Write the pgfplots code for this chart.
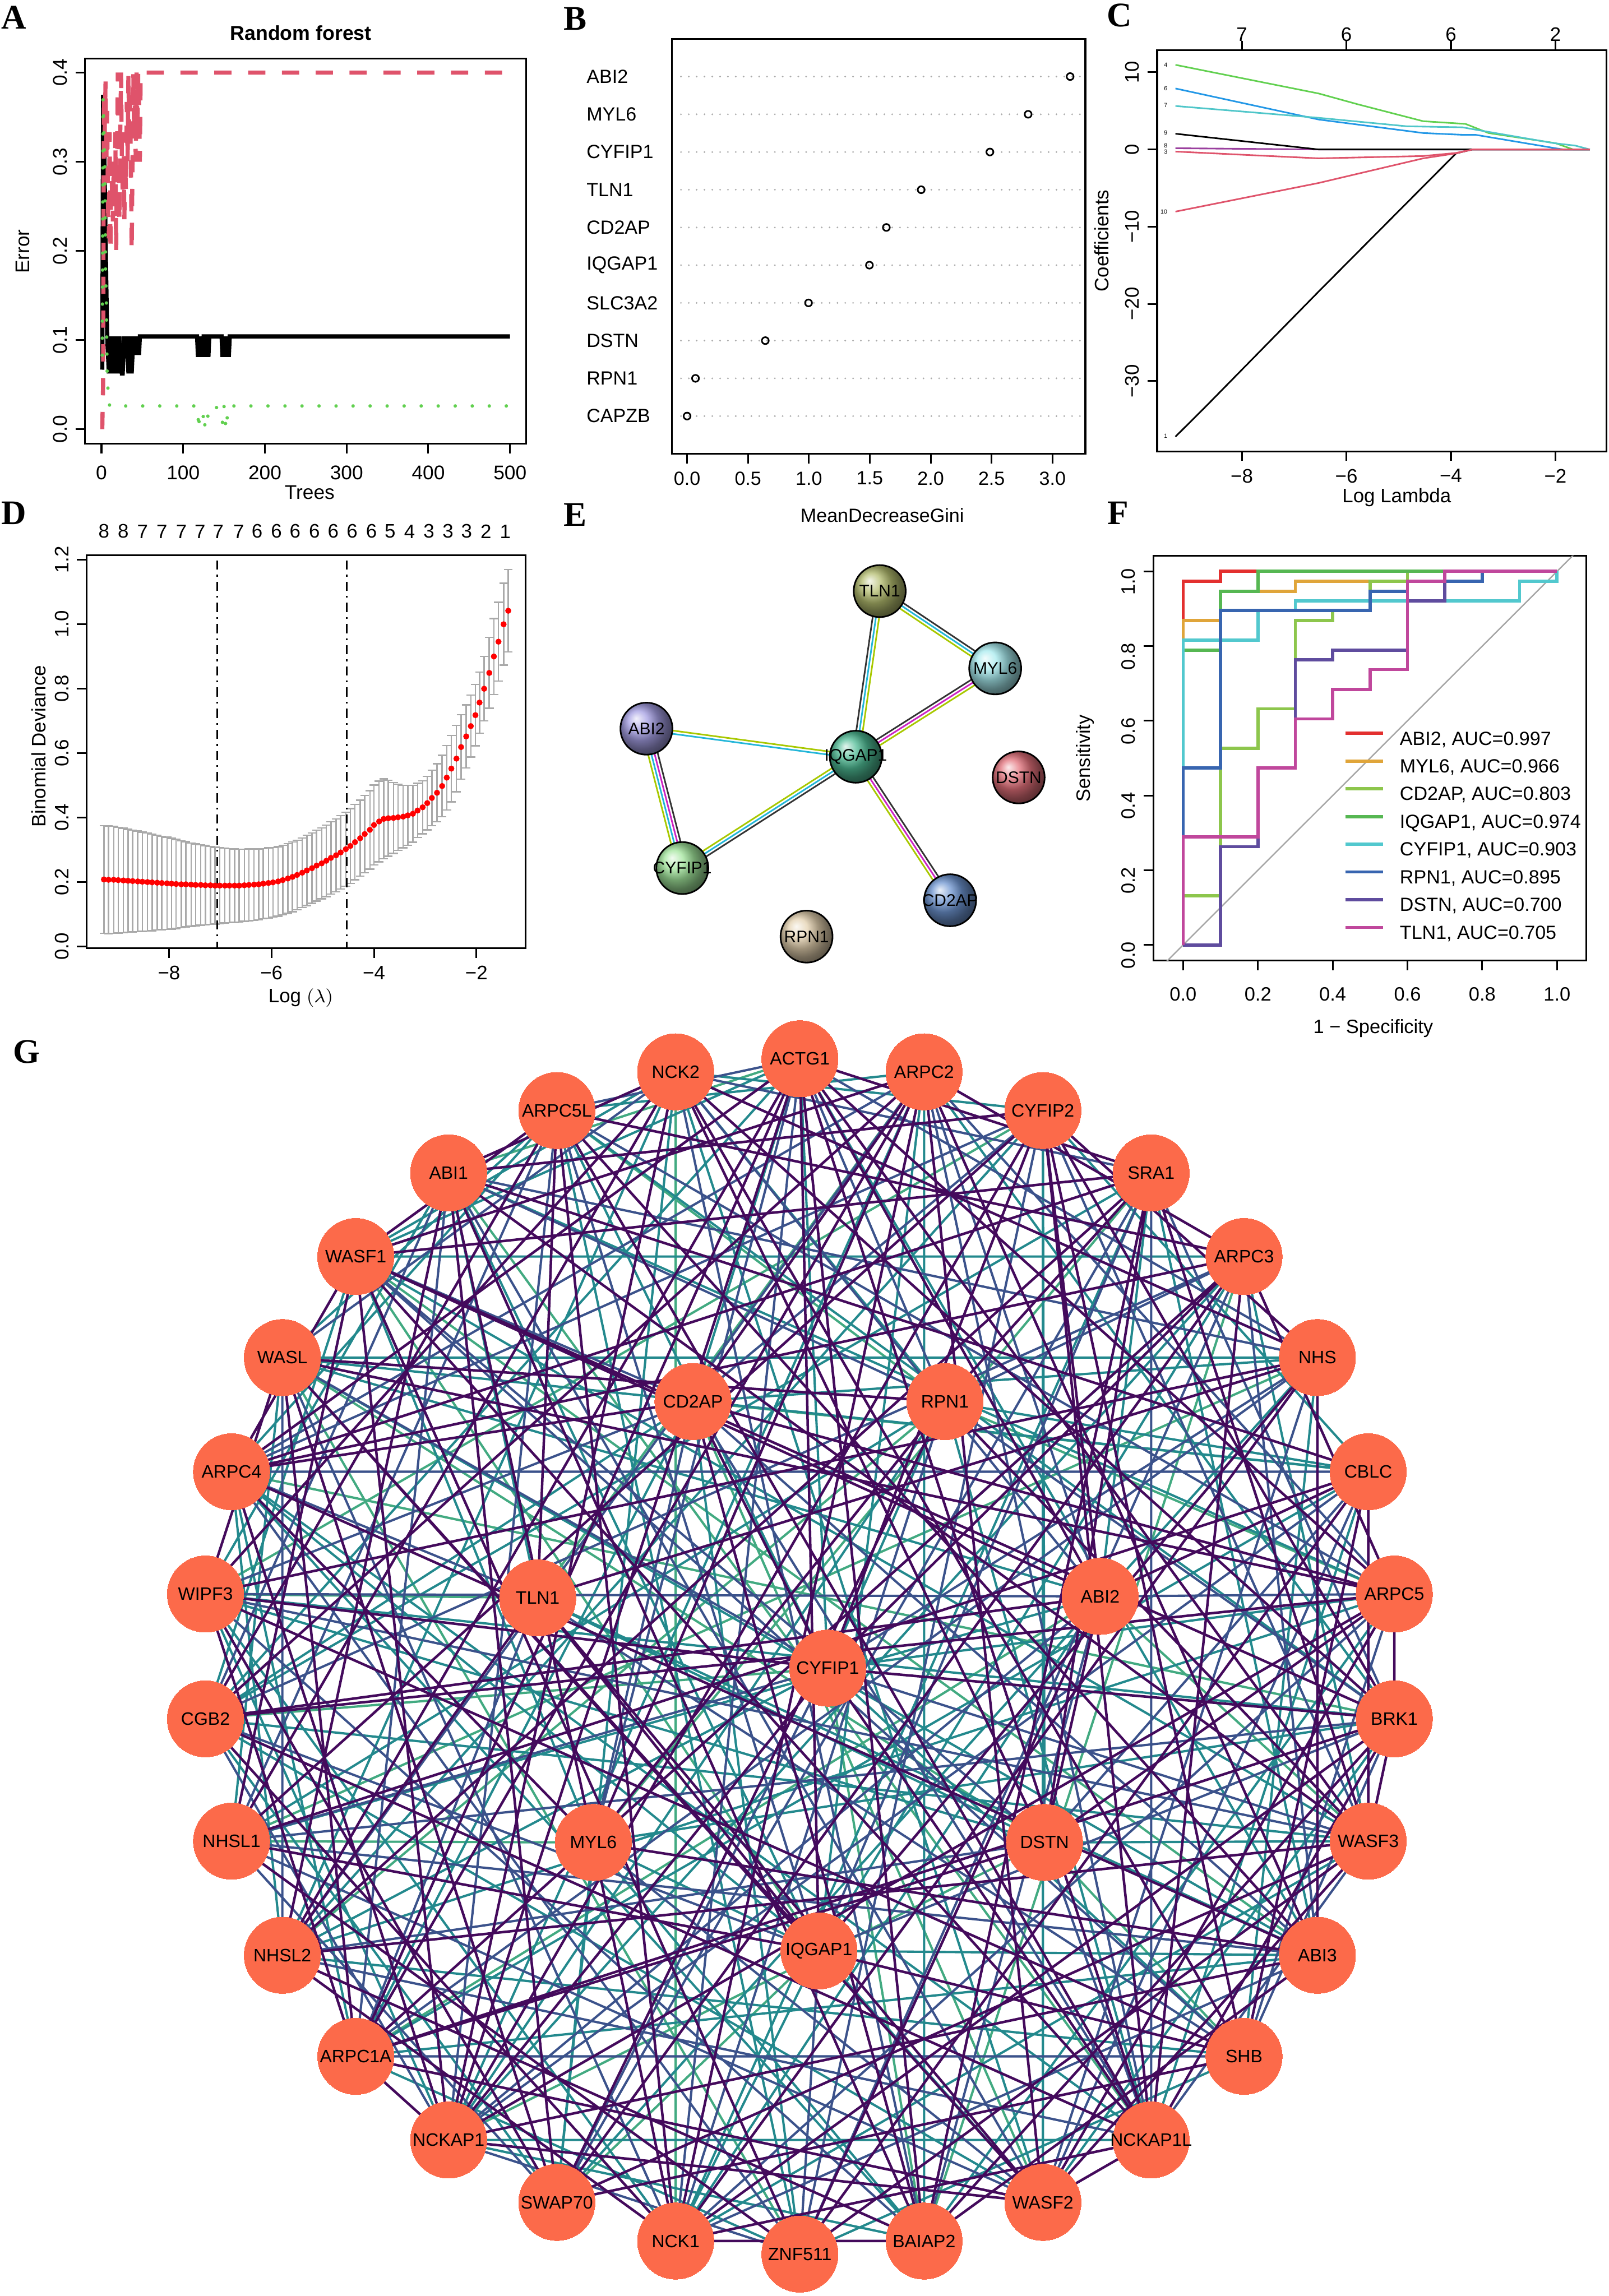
\documentclass[border=0pt]{standalone}
\usepackage{fontspec}
\setmainfont{Liberation Sans}
\newfontfamily\serifbf{Liberation Serif}
\usepackage{pgfplots}
\pgfplotsset{compat=1.18}
\usepackage{pgfplotstable}

\definecolor{rpink}{HTML}{DF536B}
\definecolor{rgreen}{HTML}{61D04F}
\definecolor{rblue}{HTML}{2297E6}
\definecolor{rcyan}{HTML}{4FC6C9}
\definecolor{rpurple}{HTML}{9A3F9E}
\definecolor{errgray}{HTML}{A9A9A9}
\definecolor{dotgray}{HTML}{ABABAB}
\definecolor{diaggray}{HTML}{A6A6A6}
\definecolor{cABI}{HTML}{E3302F}
\definecolor{cMYL}{HTML}{E0A53A}
\definecolor{cCD2}{HTML}{8DC64C}
\definecolor{cIQG}{HTML}{56B752}
\definecolor{cCYF}{HTML}{52C8CE}
\definecolor{cRPN}{HTML}{3865B0}
\definecolor{cDST}{HTML}{5F4C9E}
\definecolor{cTLN}{HTML}{C0479C}
\definecolor{nodecol}{HTML}{FC6A4A}
\definecolor{ePur}{HTML}{440A5C}
\definecolor{eBlu}{HTML}{3B528B}
\definecolor{eTea}{HTML}{23898D}
\definecolor{eGre}{HTML}{42AA81}
\definecolor{sBlk}{HTML}{333333}
\definecolor{sCya}{HTML}{22B5D8}
\definecolor{sMag}{HTML}{CC22C4}
\definecolor{sYG}{HTML}{A8C800}
\definecolor{bTLN}{HTML}{B3BC6E}
\definecolor{bMYL}{HTML}{A6EAEE}
\definecolor{bABI}{HTML}{A39DE2}
\definecolor{bIQG}{HTML}{4DBA93}
\definecolor{bDST}{HTML}{E2707A}
\definecolor{bCYF}{HTML}{A0E49A}
\definecolor{bCD2}{HTML}{6D94D0}
\definecolor{bRPN}{HTML}{E3D0AE}

\pgfplotsset{
  rax/.style={scale only axis, anchor=south west, axis line style={line width=0.75pt},
    tick style={line width=0.75pt, black}, tick align=outside, major tick length=4.2pt,
    tick pos=left, clip=true},
  ryl/.style={yticklabel style={rotate=90, anchor=south}},
  fs/.style={ticklabel style={font=\fontsize{#1}{#1}\selectfont}, label style={font=\fontsize{#1}{#1}\selectfont}},
}

\pgfplotstableread{
idx x y name
0 0 408 ACTG1
1 84.8 399.1 ARPC2
2 165.9 372.7 CYFIP2
3 239.8 330.1 SRA1
4 303.2 273.0 ARPC3
5 353.3 204.0 NHS
6 388.0 126.1 CBLC
7 405.8 42.6 ARPC5
8 405.8 -42.6 BRK1
9 388.0 -126.1 WASF3
10 353.3 -204.0 ABI3
11 303.2 -273.0 SHB
12 239.8 -330.1 NCKAP1L
13 165.9 -372.7 WASF2
14 84.8 -399.1 BAIAP2
15 0 -408 ZNF511
16 -84.8 -399.1 NCK1
17 -165.9 -372.7 SWAP70
18 -239.8 -330.1 NCKAP1
19 -303.2 -273.0 ARPC1A
20 -353.3 -204.0 NHSL2
21 -388.0 -126.1 NHSL1
22 -405.8 -42.6 CGB2
23 -405.8 42.6 WIPF3
24 -388.0 126.1 ARPC4
25 -353.3 204.0 WASL
26 -303.2 273.0 WASF1
27 -239.8 330.1 ABI1
28 -165.9 372.7 ARPC5L
29 -84.8 399.1 NCK2
30 -73 174 CD2AP
31 99 174 RPN1
32 -179 40 TLN1
33 205 41 ABI2
34 19 -8 CYFIP1
35 -141 -127 MYL6
36 167 -127 DSTN
37 13 -201 IQGAP1
}\nodesG

\pgfplotstableread{
x y e
-1.38 1.042 0.128
-1.47 1.000 0.127
-1.57 0.946 0.122
-1.66 0.900 0.118
-1.75 0.849 0.110
-1.85 0.800 0.100
-1.94 0.757 0.095
-2.02 0.718 0.095
-2.11 0.684 0.096
-2.20 0.652 0.098
-2.30 0.619 0.100
-2.39 0.583 0.103
-2.49 0.552 0.103
-2.58 0.524 0.100
-2.67 0.498 0.095
-2.77 0.477 0.090
-2.87 0.461 0.086
-2.96 0.445 0.083
-3.05 0.432 0.082
-3.15 0.422 0.084
-3.24 0.412 0.088
-3.34 0.407 0.093
-3.43 0.403 0.097
-3.53 0.401 0.103
-3.62 0.399 0.110
-3.72 0.398 0.118
-3.81 0.396 0.124
-3.90 0.388 0.125
-4.00 0.377 0.124
-4.08 0.362 0.122
-4.18 0.349 0.120
-4.27 0.336 0.118
-4.37 0.324 0.117
-4.46 0.312 0.116
-4.55 0.302 0.115
-4.65 0.292 0.114
-4.74 0.283 0.113
-4.84 0.275 0.112
-4.93 0.266 0.111
-5.02 0.258 0.110
-5.12 0.251 0.110
-5.21 0.243 0.109
-5.31 0.236 0.109
-5.40 0.229 0.108
-5.50 0.222 0.108
-5.59 0.216 0.108
-5.68 0.211 0.108
-5.78 0.206 0.108
-5.87 0.202 0.108
-5.97 0.199 0.108
-6.06 0.197 0.109
-6.16 0.195 0.109
-6.25 0.193 0.110
-6.34 0.192 0.111
-6.44 0.191 0.112
-6.53 0.190 0.112
-6.63 0.189 0.113
-6.72 0.189 0.114
-6.82 0.189 0.115
-6.91 0.189 0.116
-7.01 0.189 0.118
-7.10 0.189 0.119
-7.19 0.190 0.121
-7.29 0.190 0.123
-7.38 0.191 0.125
-7.48 0.191 0.127
-7.57 0.192 0.129
-7.67 0.193 0.132
-7.76 0.193 0.135
-7.86 0.194 0.138
-7.95 0.195 0.141
-8.04 0.196 0.143
-8.14 0.197 0.145
-8.23 0.198 0.147
-8.33 0.199 0.150
-8.42 0.200 0.152
-8.52 0.201 0.154
-8.61 0.202 0.156
-8.71 0.203 0.158
-8.80 0.204 0.160
-8.89 0.205 0.162
-8.99 0.206 0.164
-9.08 0.207 0.166
-9.18 0.207 0.167
-9.27 0.208 0.167
}\cvtable

\newcommand\buildedges[2]{%
  \gdef#1{}%
  \foreach \a/\b in {#2}{%
    \pgfplotstablegetelem{\a}{x}\of\nodesG\let\xa\pgfplotsretval
    \pgfplotstablegetelem{\a}{y}\of\nodesG\let\ya\pgfplotsretval
    \pgfplotstablegetelem{\b}{x}\of\nodesG\let\xb\pgfplotsretval
    \pgfplotstablegetelem{\b}{y}\of\nodesG\let\yb\pgfplotsretval
    \xdef#1{#1(\xa,\ya)(\xb,\yb)(nan,nan)}%
  }%
}
\buildedges\edgesP{0/7,0/9,0/12,0/14,0/18,0/20,0/24,0/33,0/37,0/19,0/3,1/4,1/10,1/13,1/16,1/22,1/26,1/30,1/35,1/19,2/5,2/8,2/11,2/18,2/27,2/33,2/34,2/12,2/21,3/9,3/14,3/20,3/26,3/31,3/36,3/24,4/7,4/12,4/17,4/24,4/28,4/34,4/19,5/10,5/16,5/23,5/32,5/37,5/29,6/11,6/15,6/21,6/27,6/33,6/9,7/13,7/18,7/25,7/30,7/36,7/8,7/22,8/12,8/16,8/19,8/26,8/29,8/34,8/9,8/14,9/15,9/20,9/27,9/31,9/13,9/17,10/14,10/18,10/24,10/35,10/28,11/17,11/23,11/29,11/37,12/16,12/22,12/26,12/34,12/13,12/28,13/19,13/25,13/32,13/18,14/20,14/27,14/30,14/16,15/21,15/26,15/33,16/22,16/28,16/35,16/20,17/23,17/27,17/31,17/25,18/24,18/29,18/34,18/19,18/26,19/25,19/36,19/23,20/27,20/32,21/26,21/37,21/29,22/28,22/33,23/29,23/34,23/25,24/30,24/35,24/26,25/31,25/37,26/33,26/28,27/35,27/29,28/32,29/36,30/34,31/35,32/37,33/36}
\buildedges\edgesB{0/5,0/16,0/28,0/31,0/35,1/7,1/12,1/20,1/24,1/33,2/9,2/15,2/24,2/30,3/8,3/12,3/17,3/29,3/37,4/10,4/15,4/22,4/31,5/13,5/19,5/27,5/34,6/13,6/18,6/24,6/36,7/11,7/16,7/28,7/33,8/11,8/21,8/31,8/37,9/12,9/23,9/34,10/16,10/21,10/30,11/19,11/26,11/32,12/20,12/30,12/36,13/21,13/27,13/35,14/23,14/29,14/33,15/18,15/24,15/37,16/25,16/31,17/21,17/34,18/22,18/28,18/33,19/27,19/32,20/25,20/36,21/28,21/34,22/27,22/37,23/30,23/33,24/32,25/29,25/34,26/30,26/36,27/31,28/37,29/33,30/35}
\buildedges\edgesT{0/10,0/22,0/26,0/30,0/34,1/8,1/14,1/18,1/28,1/37,2/6,2/13,2/20,2/29,2/36,3/10,3/16,3/22,3/33,4/9,4/18,4/26,4/35,4/37,5/11,5/17,5/25,5/30,6/12,6/19,6/25,6/31,7/14,7/20,7/27,7/34,8/13,8/23,8/28,8/35,9/16,9/22,9/26,9/36,10/19,10/25,10/32,10/37,11/15,11/20,11/34,12/18,12/24,12/31,13/22,13/29,13/37,14/18,14/24,14/35,15/19,15/28,15/30,16/23,16/33,16/37,17/22,17/29,17/35,18/23,18/31,19/24,19/30,20/24,20/29,20/34,21/25,21/31,21/33,22/26,22/30,23/27,23/36,24/28,24/37,25/28,25/33,26/29,26/35,27/32,27/37,28/34,29/31,31/34,32/36,35/37}
\buildedges\edgesG{0/27,1/32,2/23,3/35,4/14,5/21,6/30,7/31,8/24,9/33,10/26,11/36,12/27,13/30,14/34,15/25,16/29,17/37,18/36,19/33,20/31,21/35,22/34,23/32,25/36,26/37,28/31}

\begin{document}
\begin{tikzpicture}
\useasboundingbox (0,0) rectangle (699.2pt,998.2pt);

% ---------------- A ----------------
\begin{axis}[rax, ryl, fs=8.6, at={(37pt,805.3pt)}, width=191.8pt, height=167.5pt,
  xmin=-20, xmax=520, ymin=-0.0163, ymax=0.4159,
  xtick={0,100,200,300,400,500}, xticklabels={0,100,200,300,400,500},
  xticklabel style={yshift=-1.8pt},
  ytick={0,0.1,0.2,0.3,0.4}, yticklabels={0.0,0.1,0.2,0.3,0.4},
  title={Random forest}, title style={at={(axis description cs:0.489,1.068)}, anchor=center, yshift=-6.3pt, font=\bfseries\fontsize{8.7}{9}\selectfont},
  xlabel={Trees}, xlabel style={at={(axis description cs:0.509,-0.126)}, anchor=center},
  ylabel={Error}, ylabel style={at={(axis description cs:-0.141,0.499)}, anchor=center}]
\addplot[black, line width=1.8pt] coordinates {(1,0.0667)(2,0.375)(3,0.33)(4,0.28)(5,0.22)(6,0.16)(7,0.104)(8,0.0833)(9,0.0625)(10,0.104)(11,0.0625)(12,0.0833)(13,0.0625)(14,0.104)(15,0.0625)(16,0.0833)(17,0.0625)(18,0.104)(19,0.0833)(20,0.0833)(21,0.0625)(22,0.104)(23,0.0833)(24,0.0833)(25,0.0625)(26,0.0625)(27,0.0833)(28,0.104)(29,0.0833)(30,0.0833)(31,0.104)(32,0.0833)(33,0.0625)(34,0.104)(35,0.0833)(36,0.104)(37,0.0625)(38,0.0833)(39,0.104)(40,0.0833)(41,0.104)(42,0.0833)(43,0.104)(44,0.0833)(45,0.104)(46,0.0833)(47,0.104)(117,0.104)(118,0.0833)(120,0.0833)(121,0.104)(122,0.0833)(124,0.0833)(125,0.104)(128,0.104)(129,0.0833)(131,0.0833)(132,0.104)(147,0.104)(148,0.0833)(150,0.0833)(151,0.104)(152,0.0833)(153,0.104)(154,0.0833)(156,0.0833)(157,0.104)(500,0.104)};
\addplot[rpink, line width=1.8pt, dash pattern=on 7.5pt off 7.2pt] coordinates {(1,0)(2,0.05)(3,0.375)(4,0.333)(5,0.39)(6,0.3)(7,0.357)(8,0.25)(9,0.214)(10,0.333)(11,0.2)(12,0.3)(13,0.267)(14,0.233)(15,0.3)(16,0.25)(17,0.333)(18,0.2)(19,0.3)(20,0.4)(21,0.3)(22,0.233)(23,0.333)(24,0.4)(25,0.3)(26,0.267)(27,0.333)(28,0.233)(29,0.3)(30,0.267)(31,0.367)(32,0.3)(33,0.4)(34,0.333)(35,0.367)(36,0.3)(37,0.2)(38,0.3)(39,0.4)(40,0.333)(41,0.367)(42,0.3)(43,0.4)(44,0.333)(45,0.4)(46,0.367)(47,0.3)(48,0.4)(500,0.4)};
\addplot[rgreen, line width=1.5pt, line cap=round, dash pattern=on 0pt off 7.4pt] coordinates {(1,0.083)(2,0.37)(4,0.30)(5,0.18)(6,0.14)(7,0.06)(8,0.045)(9,0.037)(10,0.026)(117,0.026)(118,0.019)(119,0.0)(120,0.019)(122,0.019)(124,0.019)(126,0)(128,0.019)(131,0.013)(140,0.026)(146,0.013)(148,0.007)(150,0.026)(151,0.011)(153,0.0)(154,0.015)(156,0.026)(500,0.026)};
\end{axis}

% ---------------- B ----------------
\begin{axis}[rax, fs=8.3, at={(292pt,800.9pt)}, width=179.8pt, height=180.4pt,
  xmin=-0.126, xmax=3.27, ymin=0, ymax=11,
  xtick={0,0.5,1,1.5,2,2.5,3}, xticklabels={0.0,0.5,1.0,1.5,2.0,2.5,3.0},
  ytick={1,...,10}, yticklabels={CAPZB,RPN1,DSTN,SLC3A2,IQGAP1,CD2AP,TLN1,CYFIP1,MYL6,ABI2},
  major y tick style={draw=none},
  yticklabel style={anchor=west, inner sep=0pt, xshift=-33pt},
  xlabel={MeanDecreaseGini}, xlabel style={at={(axis description cs:0.509,-0.148)}, anchor=center}]
\addplot[dotgray, line width=0.8pt, line cap=round, dash pattern=on 0pt off 3.4pt, unbounded coords=jump] coordinates {(-0.05,1)(3.27,1)(nan,nan)(-0.05,2)(3.27,2)(nan,nan)(-0.05,3)(3.27,3)(nan,nan)(-0.05,4)(3.27,4)(nan,nan)(-0.05,5)(3.27,5)(nan,nan)(-0.05,6)(3.27,6)(nan,nan)(-0.05,7)(3.27,7)(nan,nan)(-0.05,8)(3.27,8)(nan,nan)(-0.05,9)(3.27,9)(nan,nan)(-0.05,10)(3.27,10)};
\addplot[only marks, mark=o, mark size=1.5pt, mark options={line width=0.7pt, black}] coordinates {(3.145,10)(2.80,9)(2.486,8)(1.922,7)(1.636,6)(1.497,5)(0.997,4)(0.642,3)(0.069,2)(0.0,1)};
\end{axis}

% ---------------- C ----------------
\begin{axis}[rax, ryl, fs=8.5, at={(503pt,802pt)}, width=195.4pt, height=174.3pt,
  xmin=-9.62, xmax=-1.02, ymin=-39.09, ymax=12.84,
  xtick={-8,-6,-4,-2}, xticklabels={−8,−6,−4,−2},
  ytick={-30,-20,-10,0,10}, yticklabels={−30,−20,−10,0,10},
  xlabel={Log Lambda}, xlabel style={at={(axis description cs:0.533,-0.115)}, anchor=center},
  ylabel={Coefficients}, ylabel style={at={(axis description cs:-0.124,0.525)}, anchor=center}]
\addplot[black, line width=0.7pt] coordinates {(-9.27,-37.2)(-8.72,-33.5)(-6.53,-18.4)(-3.9,-0.5)(-3.59,0)(-1.34,0)};
\addplot[rpink, line width=0.7pt] coordinates {(-9.27,-0.27)(-6.53,-1.15)(-4.53,-0.85)(-3.9,-0.45)(-3.59,0)(-1.34,0)};
\addplot[rgreen, line width=0.7pt] coordinates {(-9.27,10.96)(-6.53,7.25)(-5.78,5.85)(-4.53,3.66)(-3.72,3.31)(-3.28,2.13)(-2,0.82)(-1.66,0)(-1.34,0)};
\addplot[rblue, line width=0.7pt] coordinates {(-9.27,7.9)(-6.53,3.88)(-4.53,2.13)(-3.78,1.9)(-3.53,1.9)(-2,0.16)(-1.84,0)(-1.34,0)};
\addplot[rcyan, line width=0.7pt] coordinates {(-9.27,5.63)(-6.53,4.1)(-4.84,3.0)(-3.78,2.87)(-3.53,2.57)(-2.03,0.82)(-1.62,0.5)(-1.34,0)};
\addplot[rpurple, line width=0.7pt] coordinates {(-9.27,0.16)(-6.53,0)(-1.34,0)};
\addplot[black, line width=0.7pt] coordinates {(-9.27,2.04)(-6.53,0)(-1.34,0)};
\addplot[rpink, line width=0.7pt] coordinates {(-9.27,-8.05)(-6.53,-4.34)(-4.53,-1.15)(-3.9,-0.5)(-3.59,0)(-1.34,0)};
\addplot[draw=none, mark=none, nodes near coords, point meta=explicit symbolic,
  every node near coord/.append style={anchor=center, inner sep=0pt, text=black, font=\fontsize{2.6}{3}\selectfont}]
  table[meta=lab] {
x y lab
-9.456 10.96 4
-9.456 7.9 6
-9.456 5.72 7
-9.456 2.13 9
-9.456 0.47 8
-9.456 -0.27 3
-9.49 -8.05 10
-9.456 -37.1 1
};
\end{axis}
\begin{axis}[scale only axis, anchor=south west, at={(503pt,802pt)}, width=195.4pt, height=174.3pt,
  xmin=-9.62, xmax=-1.02, ymin=0, ymax=1, axis x line*=top, axis y line=none,
  axis line style={line width=0.75pt}, tick style={line width=0.75pt, black}, tick align=outside, major tick length=4.2pt,
  xtick={-8,-6,-4,-2}, xticklabels={7,6,6,2}, xticklabel style={yshift=-3.8pt},
  ticklabel style={font=\fontsize{8.5}{9}\selectfont}]
\end{axis}

% ---------------- D ----------------
\begin{axis}[rax, ryl, fs=8.5, at={(37.6pt,586pt)}, width=190.9pt, height=170.7pt,
  xmin=-9.61, xmax=-1.04, ymin=-0.005, ymax=1.2136,
  xtick={-8,-6,-4,-2}, xticklabels={−8,−6,−4,−2},
  ytick={0,0.2,0.4,0.6,0.8,1.0,1.2}, yticklabels={0.0,0.2,0.4,0.6,0.8,1.0,1.2},
  xlabel={Log $(\lambda)$}, xlabel style={at={(axis description cs:0.488,-0.127)}, anchor=center},
  ylabel={Binomial Deviance}, ylabel style={at={(axis description cs:-0.109,0.514)}, anchor=center}]
\addplot[draw=none, mark=none, error bars/.cd, y dir=both, y explicit,
  error bar style={line width=0.6pt, draw=errgray},
  error mark options={rotate=90, mark size=1.9pt, line width=0.6pt, draw=errgray}]
  table[x=x, y=y, y error=e] {\cvtable};
\addplot[red, only marks, mark=*, mark size=1.1pt, mark options={draw=red, fill=red}] table[x=x, y=y] {\cvtable};
\addplot[black, line width=0.75pt, dash pattern=on 0.8pt off 2.2pt on 4pt off 2.2pt] coordinates {(-7.06,-0.1)(-7.06,1.3)};
\addplot[black, line width=0.75pt, dash pattern=on 0.8pt off 2.2pt on 4pt off 2.2pt] coordinates {(-4.53,-0.1)(-4.53,1.3)};
\end{axis}
\begin{axis}[scale only axis, anchor=south west, at={(37.6pt,586pt)}, width=190.9pt, height=170.7pt,
  xmin=-9.61, xmax=-1.04, ymin=0, ymax=1, axis x line*=top, axis y line=none,
  axis line style={line width=0.75pt}, major tick length=0pt,
  xtick={-9.271,-8.893,-8.515,-8.137,-7.759,-7.395,-7.038,-6.639,-6.282,-5.904,-5.540,-5.162,-4.797,-4.426,-4.048,-3.684,-3.306,-2.928,-2.557,-2.192,-1.814,-1.436},
  xticklabels={8,8,7,7,7,7,7,7,6,6,6,6,6,6,6,5,4,3,3,3,2,1},
  xticklabel style={yshift=4pt},
  ticklabel style={font=\fontsize{8.5}{9}\selectfont}]
\end{axis}

% ---------------- E ----------------
\begin{axis}[scale only axis, anchor=south west, at={(250pt,552.2pt)}, width=220pt, height=210pt,
  xmin=1250, xmax=2350, ymin=-2230, ymax=-1180, hide axis, clip=false,
  every axis plot/.append style={line width=0.7pt, unbounded coords=jump}]
\addplot[sBlk] coordinates {(1905.07,-1284)(1853.07,-1644)(nan,nan)(1915.89,-1279.18)(2166.89,-1447.18)(nan,nan)(2159.25,-1447.09)(1856.25,-1639.09)(nan,nan)(1415.17,-1581.38)(1493.17,-1884.38)(nan,nan)(1863.78,-1650.89)(1486.78,-1892.89)(nan,nan)(1865.85,-1641.16)(2070.85,-1953.16)};
\addplot[sCya] coordinates {(1912,-1285)(1860,-1645)(nan,nan)(1912,-1285)(2163,-1453)(nan,nan)(1404.53,-1587.47)(1859.53,-1648.47)(nan,nan)(1401.61,-1584.87)(1479.61,-1887.87)(nan,nan)(1860,-1645)(1483,-1887)};
\addplot[sMag] coordinates {(2163,-1453)(1860,-1645)(nan,nan)(1408.39,-1583.13)(1486.39,-1886.13)(nan,nan)(1860,-1645)(2065,-1957)};
\addplot[sYG] coordinates {(1918.93,-1286)(1866.93,-1646)(nan,nan)(1908.11,-1290.82)(2159.11,-1458.82)(nan,nan)(2166.75,-1458.91)(1863.75,-1650.91)(nan,nan)(1405.47,-1580.53)(1860.47,-1641.53)(nan,nan)(1394.83,-1586.62)(1472.83,-1889.62)(nan,nan)(1856.22,-1639.11)(1479.22,-1881.11)(nan,nan)(1854.15,-1648.84)(2059.15,-1960.84)};
\pgfplotsset{ballnode/.style={only marks, mark=ball, mark size=11.3pt, ball color=#1, nodes near coords, point meta=explicit symbolic,
  every node near coord/.append style={anchor=center, inner sep=0pt, font=\fontsize{7.3}{8}\selectfont, text=black}}}
\addplot[ballnode=bTLN] table[meta=n] {x y n
1912 -1285 TLN1
};
\addplot[ballnode=bMYL] table[meta=n] {x y n
2163 -1453 MYL6
};
\addplot[ballnode=bABI] table[meta=n] {x y n
1405 -1584 ABI2
};
\addplot[ballnode=bIQG] table[meta=n] {x y n
1860 -1645 IQGAP1
};
\addplot[ballnode=bDST] table[meta=n] {x y n
2214 -1690 DSTN
};
\addplot[ballnode=bCYF] table[meta=n] {x y n
1483 -1887 CYFIP1
};
\addplot[ballnode=bCD2] table[meta=n] {x y n
2065 -1957 CD2AP
};
\addplot[ballnode=bRPN] table[meta=n] {x y n
1753 -2036 RPN1
};
\end{axis}

% ---------------- F ----------------
\begin{axis}[rax, ryl, fs=8.4, at={(501.3pt,580.5pt)}, width=188.2pt, height=176pt,
  xmin=-0.08, xmax=1.078, ymin=-0.0425, ymax=1.0414,
  xtick={0,0.2,0.4,0.6,0.8,1}, xticklabels={0.0,0.2,0.4,0.6,0.8,1.0},
  ytick={0,0.2,0.4,0.6,0.8,1}, yticklabels={0.0,0.2,0.4,0.6,0.8,1.0},
  xticklabel style={yshift=-3.8pt},
  yticklabel style={xshift=-4.5pt},
  xlabel={1 − Specificity}, xlabel style={at={(axis description cs:0.508,-0.167)}, anchor=center},
  ylabel={Sensitivity}, ylabel style={at={(axis description cs:-0.157,0.5)}, anchor=center},
  every axis plot/.append style={line width=1.4pt},
  legend cell align=left,
  legend image code/.code={\draw[#1] (0pt,2.9pt) -- (16.4pt,2.9pt);},
  legend style={at={(axis description cs:0.44,0.567)}, anchor=north west, draw=none, fill=none,
    inner sep=0pt, outer sep=0pt, row sep=4.35pt,
    nodes={inner sep=0pt, text height=6pt, text depth=1.7pt, font=\fontsize{8.3}{9}\selectfont}}]
\addplot[diaggray, line width=0.6pt, forget plot] coordinates {(-0.2,-0.2)(1.2,1.2)};
\addplot[cABI] coordinates {(0,0)(0,0.974)(0.1,0.974)(0.1,1)(1,1)};
\addlegendentry{\hspace{6.6pt}ABI2, AUC=0.997}
\addplot[cMYL] coordinates {(0,0)(0,0.868)(0.1,0.868)(0.1,0.947)(0.3,0.947)(0.3,0.974)(0.6,0.974)(0.6,1)(1,1)};
\addlegendentry{\hspace{6.6pt}MYL6, AUC=0.966}
\addplot[cCD2] coordinates {(0,0)(0,0.132)(0.1,0.132)(0.1,0.526)(0.2,0.526)(0.2,0.632)(0.3,0.632)(0.3,0.868)(0.4,0.868)(0.4,0.895)(0.5,0.895)(0.5,0.974)(0.6,0.974)(0.6,1)(1,1)};
\addlegendentry{\hspace{6.6pt}CD2AP, AUC=0.803}
\addplot[cIQG] coordinates {(0,0)(0,0.789)(0.1,0.789)(0.1,0.947)(0.2,0.947)(0.2,1)(1,1)};
\addlegendentry{\hspace{6.6pt}IQGAP1, AUC=0.974}
\addplot[cCYF] coordinates {(0,0)(0,0.816)(0.2,0.816)(0.2,0.895)(0.3,0.895)(0.3,0.921)(0.9,0.921)(0.9,0.974)(1,0.974)(1,1)};
\addlegendentry{\hspace{6.6pt}CYFIP1, AUC=0.903}
\addplot[cRPN] coordinates {(0,0)(0,0.474)(0.1,0.474)(0.1,0.895)(0.5,0.895)(0.5,0.947)(0.6,0.947)(0.6,0.974)(0.8,0.974)(0.8,1)(1,1)};
\addlegendentry{\hspace{6.6pt}RPN1, AUC=0.895}
\addplot[cDST] coordinates {(0,0)(0.1,0)(0.1,0.263)(0.2,0.263)(0.2,0.474)(0.3,0.474)(0.3,0.763)(0.4,0.763)(0.4,0.789)(0.6,0.789)(0.6,0.921)(0.7,0.921)(0.7,1)(1,1)};
\addlegendentry{\hspace{6.6pt}DSTN, AUC=0.700}
\addplot[cTLN] coordinates {(0,0)(0,0.289)(0.2,0.289)(0.2,0.474)(0.3,0.474)(0.3,0.605)(0.4,0.605)(0.4,0.684)(0.5,0.684)(0.5,0.737)(0.6,0.737)(0.6,0.974)(0.7,0.974)(0.7,1)(1,1)};
\addlegendentry{\hspace{6.6pt}TLN1, AUC=0.705}
\end{axis}

% ---------------- G ----------------
\begin{axis}[scale only axis, anchor=south west, at={(16.6pt,-14.9pt)}, width=662.2pt, height=585.9pt,
  xmin=-520, xmax=520, ymin=-460, ymax=460, hide axis, clip=false,
  every axis plot/.append style={unbounded coords=jump}]
\edef\tmp{\noexpand\addplot[eGre, line width=1.0pt] coordinates {\edgesG};}\tmp
\edef\tmp{\noexpand\addplot[eTea, line width=1.0pt] coordinates {\edgesT};}\tmp
\edef\tmp{\noexpand\addplot[eBlu, line width=1.0pt] coordinates {\edgesB};}\tmp
\edef\tmp{\noexpand\addplot[ePur, line width=1.1pt] coordinates {\edgesP};}\tmp
\addplot[nodecol, only marks, mark=*, mark size=16.6pt, mark options={fill=nodecol, draw=nodecol, line width=0pt},
  nodes near coords, point meta=explicit symbolic,
  every node near coord/.append style={anchor=center, inner sep=0pt, text=black, font=\fontsize{7.8}{8}\selectfont}]
  table[x=x, y=y, meta=name] {\nodesG};
\end{axis}

% panel letters
\begin{scope}[every node/.style={font=\serifbf\bfseries\fontsize{15}{15}\selectfont, anchor=center, inner sep=0pt}]
\node at (6pt,990.5pt) {A};
\node at (250pt,990.1pt) {B};
\node at (486.7pt,991.6pt) {C};
\node at (6.1pt,775.2pt) {D};
\node at (250pt,774.5pt) {E};
\node at (486pt,775pt) {F};
\node at (11.5pt,541pt) {G};
\end{scope}
\end{tikzpicture}
\end{document}
